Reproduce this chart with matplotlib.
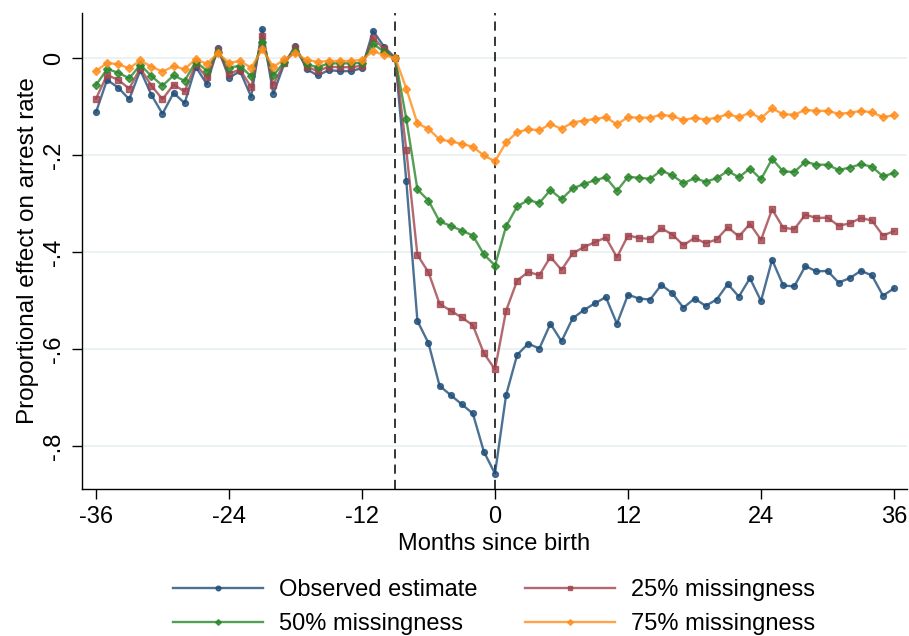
import numpy as np
import matplotlib
matplotlib.use("Agg")
import matplotlib.pyplot as plt

plt.rcParams['font.family'] = ['Liberation Sans', 'DejaVu Sans']
plt.rcParams['axes.unicode_minus'] = False

months = np.arange(-36, 37)

# event-study coefficients, months -36..36
observed = [
    -0.112, -0.045, -0.061, -0.085, -0.025, -0.076, -0.115, -0.072, -0.093, -0.018,
    -0.054, 0.021, -0.041, -0.027, -0.080, 0.060, -0.074, -0.011, 0.025, -0.023,
    -0.036, -0.025, -0.027, -0.027, -0.021, 0.056, 0.023, 0.000,
    -0.254, -0.542, -0.588, -0.676, -0.695, -0.714, -0.733, -0.812, -0.857,
    -0.695, -0.612, -0.589, -0.599, -0.548, -0.584, -0.537, -0.520, -0.506, -0.493,
    -0.548, -0.488, -0.496, -0.498, -0.468, -0.485, -0.515, -0.496, -0.511, -0.498,
    -0.466, -0.492, -0.454, -0.501, -0.416, -0.469, -0.471, -0.429, -0.440, -0.439,
    -0.463, -0.454, -0.439, -0.448, -0.490, -0.475,
]
miss25 = [
    -0.084, -0.035, -0.045, -0.063, -0.021, -0.057, -0.085, -0.055, -0.069, -0.013,
    -0.040, 0.016, -0.032, -0.024, -0.060, 0.045, -0.055, -0.010, 0.020, -0.018,
    -0.027, -0.018, -0.019, -0.019, -0.016, 0.042, 0.018, 0.000,
    -0.190, -0.406, -0.442, -0.507, -0.521, -0.535, -0.551, -0.609, -0.642,
    -0.521, -0.459, -0.441, -0.448, -0.410, -0.437, -0.403, -0.390, -0.380, -0.370,
    -0.411, -0.366, -0.371, -0.373, -0.351, -0.364, -0.386, -0.371, -0.382, -0.374,
    -0.349, -0.368, -0.342, -0.375, -0.312, -0.350, -0.353, -0.323, -0.330, -0.329,
    -0.346, -0.341, -0.330, -0.335, -0.366, -0.357,
]
miss50 = [
    -0.056, -0.023, -0.030, -0.042, -0.014, -0.037, -0.057, -0.036, -0.047, -0.008,
    -0.026, 0.013, -0.020, -0.016, -0.038, 0.032, -0.036, -0.008, 0.015, -0.013,
    -0.019, -0.011, -0.011, -0.011, -0.010, 0.029, 0.013, 0.000,
    -0.126, -0.271, -0.294, -0.337, -0.346, -0.356, -0.366, -0.405, -0.428,
    -0.347, -0.306, -0.293, -0.299, -0.272, -0.291, -0.269, -0.260, -0.252, -0.246,
    -0.274, -0.245, -0.247, -0.249, -0.232, -0.242, -0.258, -0.248, -0.255, -0.248,
    -0.233, -0.246, -0.228, -0.250, -0.208, -0.234, -0.235, -0.214, -0.220, -0.220,
    -0.231, -0.226, -0.219, -0.224, -0.244, -0.237,
]
miss75 = [
    -0.027, -0.010, -0.013, -0.021, -0.005, -0.018, -0.028, -0.017, -0.023, -0.002,
    -0.012, 0.010, -0.010, -0.006, -0.020, 0.018, -0.018, -0.003, 0.010, -0.004,
    -0.008, -0.006, -0.006, -0.006, -0.004, 0.014, 0.006, 0.000,
    -0.063, -0.135, -0.146, -0.168, -0.172, -0.177, -0.183, -0.201, -0.213,
    -0.174, -0.153, -0.147, -0.149, -0.136, -0.146, -0.133, -0.129, -0.126, -0.122,
    -0.137, -0.122, -0.123, -0.123, -0.117, -0.120, -0.128, -0.123, -0.127, -0.123,
    -0.116, -0.122, -0.113, -0.124, -0.104, -0.116, -0.117, -0.107, -0.109, -0.109,
    -0.115, -0.113, -0.109, -0.112, -0.122, -0.118,
]

labels = ['Observed estimate', '25% missingness', '50% missingness', '75% missingness']
colors = ['#1f4e79', '#a0444c', '#2a862a', '#ff8c1a']
markers = ['o', 's', 'D', 'D']
msizes = [4.2, 3.8, 3.6, 3.6]

fig = plt.figure(figsize=(9.09, 6.36), dpi=100)
ax = fig.add_axes([82 / 909, 1 - 489 / 636, (907 - 82) / 909, (489 - 13) / 636])

# horizontal grid
for yv in [0, -0.2, -0.4, -0.6, -0.8]:
    ax.axhline(yv, color='#e8f0f2', lw=1.2, zorder=0)

ax.axvline(-9, color='black', lw=1.1, ls=(0, (6, 4)), zorder=1)
ax.axvline(0, color='black', lw=1.1, ls=(0, (6, 4)), zorder=1)

handles = []
for series, lab, c, m, ms in zip([observed, miss25, miss50, miss75], labels, colors, markers, msizes):
    h, = ax.plot(months, series, color=c, alpha=0.8, lw=1.7, marker=m, ms=ms,
                 markeredgecolor=c, markerfacecolor=c, label=lab, zorder=2)
    handles.append(h)

ax.set_xlim(-37.26, 37.17)
ax.set_ylim(-0.8887, 0.0928)
ax.set_xticks([-36, -24, -12, 0, 12, 24, 36])
ax.set_yticks([0, -0.2, -0.4, -0.6, -0.8])
ax.set_yticklabels(['0', '-.2', '-.4', '-.6', '-.8'], rotation=90, va='center')

for s in ['top', 'right']:
    ax.spines[s].set_visible(False)
ax.spines['left'].set_linewidth(1.0)
ax.spines['bottom'].set_linewidth(1.0)
ax.tick_params(axis='both', direction='out', length=7, width=1.0, labelsize=17, pad=5)

ax.set_xlabel('Months since birth', fontsize=17, labelpad=4)
ax.set_ylabel('Proportional effect on arrest rate', fontsize=17.5, labelpad=3)

# legend fills column-wise, so reorder to get rows (obs, 25) / (50, 75)
order = [0, 2, 1, 3]
fig.legend(handles=[handles[i] for i in order], loc='center',
           bbox_to_anchor=(494 / 909, 1 - 607 / 636),
           ncol=2, frameon=False, fontsize=17, handlelength=3.8, handletextpad=0.7,
           columnspacing=2.0, labelspacing=0.5, markerscale=0.8)

fig.savefig('out.png', dpi=100)
